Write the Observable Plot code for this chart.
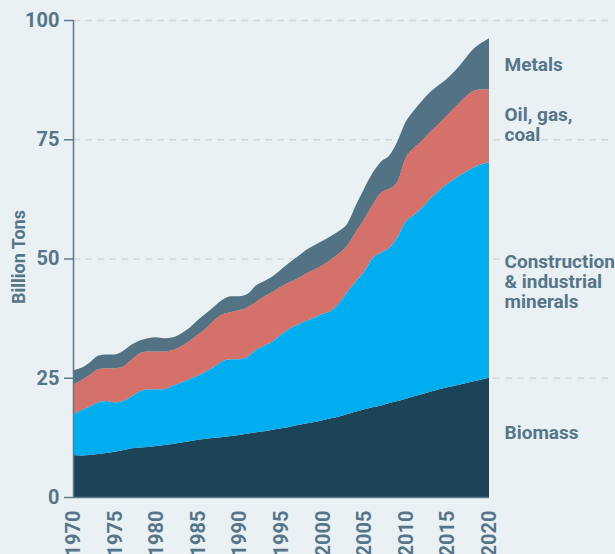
<!DOCTYPE html>
<html>
<head>
<meta charset="utf-8">
<script src="https://cdn.jsdelivr.net/npm/d3@7"></script>
<script src="https://cdn.jsdelivr.net/npm/@observablehq/plot@0.6"></script>
<style>
  html, body { margin: 0; padding: 0; background: #e9f1f5; overflow: hidden; }
  #chart svg { display: block; }
</style>
</head>
<body>
<div id="chart"></div>
<script>
const years = [
  1970, 1971, 1972, 1973, 1974, 1975, 1976, 1977, 1978, 1979,
  1980, 1981, 1982, 1983, 1984, 1985, 1986, 1987, 1988, 1989,
  1990, 1991, 1992, 1993, 1994, 1995, 1996, 1997, 1998, 1999,
  2000, 2001, 2002, 2003, 2004, 2005, 2006, 2007, 2008, 2009,
  2010, 2011, 2012, 2013, 2014, 2015, 2016, 2017, 2018, 2019,
  2020
];
const biomass = [
  8.8, 8.7, 8.8, 9.0, 9.2, 9.5, 9.8, 10.2, 10.4, 10.5,
  10.7, 10.9, 11.1, 11.4, 11.7, 12.0, 12.2, 12.4, 12.6, 12.8,
  13.0, 13.3, 13.6, 13.8, 14.1, 14.4, 14.7, 15.1, 15.4, 15.7,
  16.1, 16.5, 16.9, 17.4, 17.9, 18.4, 18.8, 19.2, 19.7, 20.1,
  20.6, 21.1, 21.6, 22.1, 22.6, 23.0, 23.4, 23.8, 24.2, 24.6,
  25.0
];
const construction = [
  8.5, 9.5, 10.1, 10.8, 10.9, 10.3, 10.3, 10.8, 11.7, 12.1,
  11.9, 11.7, 12.2, 12.6, 13.0, 13.4, 14.1, 14.9, 15.9, 16.1,
  15.9, 16.1, 17.2, 17.9, 18.5, 19.6, 20.5, 21.0, 21.5, 21.9,
  22.3, 22.5, 23.7, 25.6, 27.2, 28.8, 31.2, 32.0, 32.5, 34.3,
  37.1, 38.0, 39.1, 40.5, 41.6, 42.6, 43.4, 44.1, 44.7, 45.1,
  45.2
];
const fossil = [
  6.3, 6.3, 6.7, 7.0, 6.9, 7.2, 7.2, 7.7, 8.0, 7.9,
  7.9, 7.9, 7.5, 7.6, 8.0, 8.6, 9.1, 9.8, 9.8, 9.9,
  10.3, 10.4, 10.1, 10.4, 10.4, 10.1, 9.8, 9.7, 9.9, 10.1,
  10.2, 10.8, 10.5, 9.8, 10.5, 11.0, 11.2, 12.6, 12.4, 11.7,
  13.4, 14.1, 14.1, 14.0, 14.1, 14.5, 15.0, 15.7, 16.1, 15.8,
  15.3
];
const metals = [
  3.0, 2.6, 2.6, 2.8, 2.9, 2.9, 3.3, 3.2, 2.7, 2.8,
  3.0, 2.8, 2.7, 2.7, 2.8, 3.1, 3.1, 2.9, 3.1, 3.3,
  2.9, 2.8, 3.5, 3.2, 3.3, 3.6, 4.1, 4.6, 5.0, 5.1,
  5.1, 4.9, 4.7, 4.6, 5.6, 6.5, 6.7, 6.5, 7.0, 8.5,
  7.6, 7.9, 8.4, 8.4, 8.1, 7.7, 7.7, 8.0, 8.7, 9.6,
  10.7
];
const seriesNames = ["Biomass", "Construction\n& industrial\nminerals", "Oil, gas,\ncoal", "Metals"];
const seriesValues = [biomass, construction, fossil, metals];
const seriesColors = ["#1b4459", "#00adee", "#d5716b", "#537384"];
const yTicks = [0, 25, 50, 75, 100];
const xTicks = [1970, 1975, 1980, 1985, 1990, 1995, 2000, 2005, 2010, 2015, 2020];
const yLabel = "Billion Tons";

const textColor = "#577588";
const axisColor = "#60798a";

const rows = [];
seriesNames.forEach((name, i) => {
  years.forEach((yr, j) => rows.push({year: yr, series: name, value: seriesValues[i][j]}));
});

// label positions: middle of each band at the last year, slightly nudged
const lastYear = years[years.length - 1];
let cum = 0;
const labelNudge = [1.1, -2.4, 0.3, 0];
const labels = seriesNames.map((name, i) => {
  const v = seriesValues[i][seriesValues[i].length - 1];
  const mid = cum + v / 2 + labelNudge[i];
  cum += v;
  return {name, year: lastYear, mid};
});

const chart = Plot.plot({
  width: 615,
  height: 554,
  marginTop: 20,
  marginBottom: 57,
  marginLeft: 73,
  marginRight: 7,
  style: {background: "#e9f1f5", fontFamily: "Roboto, 'Liberation Sans', sans-serif", color: textColor},
  x: {type: "linear", domain: [years[0], lastYear], range: [73, 489]},
  y: {domain: [yTicks[0], yTicks[yTicks.length - 1]]},
  color: {domain: seriesNames, range: seriesColors},
  marks: [
    Plot.ruleY(yTicks.slice(1), {stroke: "#d3d9dd", strokeWidth: 1.5, strokeDasharray: "7,5"}),
    Plot.areaY(rows, {x: "year", y: "value", fill: "series", order: seriesNames, curve: "monotone-x"}),
    Plot.ruleX([years[0]], {stroke: axisColor, strokeWidth: 1.5}),
    Plot.ruleY([yTicks[0]], {x1: [years[0]], x2: [lastYear], stroke: axisColor, strokeWidth: 1.5}),
    Plot.axisY({ticks: yTicks, tickSize: 9, tickPadding: 5, stroke: axisColor, strokeWidth: 1.5,
      fontSize: 20, fontWeight: "bold", fill: textColor, label: null}),
    Plot.axisX({ticks: xTicks, tickFormat: d => String(d), tickSize: 0, tickPadding: 13, tickRotate: -90,
      fontSize: 20, fontWeight: "bold", fill: textColor, label: null}),
    Plot.text([yLabel], {frameAnchor: "left", textAnchor: "middle", rotate: -90, dx: -54, dy: -2,
      fontSize: 18, fontWeight: "bold", fill: textColor}),
    Plot.text(labels, {x: "year", y: "mid", text: "name", dx: 15, textAnchor: "start", lineAnchor: "middle",
      lineHeight: 1.05, fontSize: 19, fontWeight: "bold", fill: textColor})
  ]
});
document.getElementById("chart").appendChild(chart);
</script>
</body>
</html>
